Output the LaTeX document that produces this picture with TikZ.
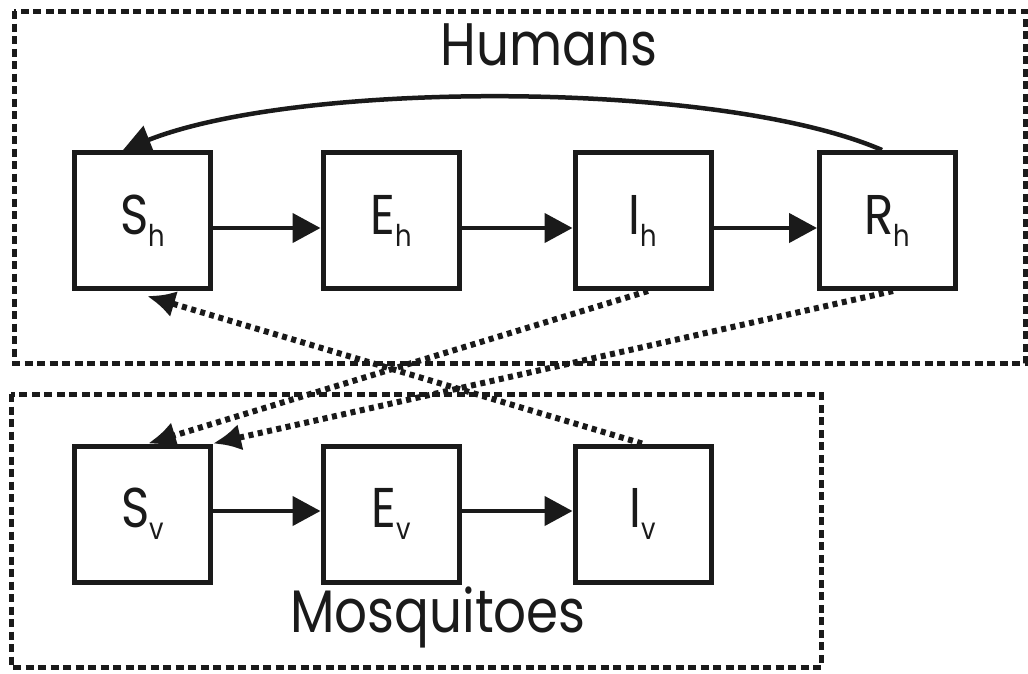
\documentclass[tikz,border=0pt]{standalone}
\usepackage{fontspec}
\setmainfont{Poppins}
\usetikzlibrary{arrows.meta}
\definecolor{ink}{HTML}{1A1A1A}
\newcommand\lsub[1]{\raisebox{-12pt}{\fontsize{30}{32}\selectfont #1}}
\newcommand\narrow[1]{\scalebox{0.86}[1]{#1}}
\begin{document}
\begin{tikzpicture}[x=1pt,y=-1pt,
  box/.style={draw=ink,line width=5pt,minimum width=136pt,minimum height=136pt,inner sep=0pt,text=ink,font=\fontsize{56}{60}\selectfont},
  arr/.style={draw=ink,line width=4.5pt,-{Triangle[length=28pt,width=29pt]}},
  dotarr/.style={draw=ink,line width=6pt,dash pattern=on 5pt off 4.5pt,-{Latex[length=28pt,width=27pt]}},
  group/.style={draw=ink,line width=5pt,dash pattern=on 8pt off 4.5pt},
  title/.style={font=\fontsize{60}{64}\selectfont,anchor=base,text=ink}]
\useasboundingbox[fill=white] (0,0) rectangle (1028,673);
% groups
\draw[group] (14,11) rectangle (1025.5,363);
\draw[group] (11,394) rectangle (821,667);
\node[title] (hum) at (549,65) {\narrow{Humans}};
\node[title] (mos) at (438,632) {\narrow{Mosquitoes}};
% boxes
\node[box] (Sh) at (142.5,220.5) {\narrow{S\lsub{h}}};
\node[box] (Eh) at (391,220.5) {\narrow{E\lsub{h}}};
\node[box] (Ih) at (643,220.5) {\narrow{I\lsub{h}}};
\node[box] (Rh) at (887.5,220.5) {\narrow{R\lsub{h}}};
\node[box] (Sv) at (142.5,514) {\narrow{S\lsub{v}}};
\node[box] (Ev) at (391,514) {\narrow{E\lsub{v}}};
\node[box] (Iv) at (643,514) {\narrow{I\lsub{v}}};
% solid transitions
\draw[arr] ([yshift=-7.5pt]Sh.east) -- ([yshift=-7.5pt]Eh.west);
\draw[arr] ([yshift=-7.5pt]Eh.east) -- ([yshift=-7.5pt]Ih.west);
\draw[arr] ([yshift=-7.5pt]Ih.east) -- ([yshift=-7.5pt]Rh.west);
\draw[arr] ([yshift=3pt]Sv.east) -- ([yshift=3pt]Ev.west);
\draw[arr] ([yshift=3pt]Ev.east) -- ([yshift=3pt]Iv.west);
% loss of immunity
\draw[arr] ([xshift=-5.5pt]Rh.north) .. controls (720,80) and (300,80) .. ([xshift=-19.5pt]Sh.north);
% infection (dotted)
\coordinate (shin) at (147,296);
\draw[dotarr] ([xshift=-1pt]Iv.north) -- (shin);
\draw[dotarr] ([xshift=5pt]Ih.south) -- ([xshift=5.5pt]Sv.north);
\draw[dotarr] ([xshift=5.5pt]Rh.south) -- (Sv.north east);
\end{tikzpicture}
\end{document}
